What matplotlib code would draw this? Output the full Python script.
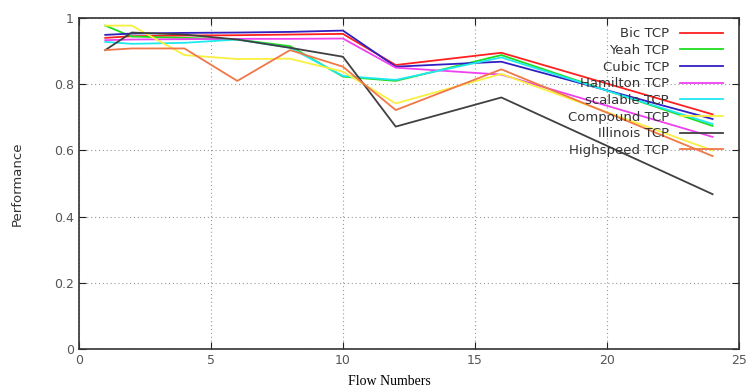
import matplotlib
matplotlib.use("Agg")
import matplotlib.pyplot as plt

# ── Data ─────────────────────────────────────────────────────────────────────
flows = [1, 2, 4, 6, 8, 10, 12, 16, 24]

bic       = [0.940, 0.945, 0.947, 0.948, 0.950, 0.952, 0.858, 0.895, 0.709]
yeah      = [0.977, 0.944, 0.940, 0.935, 0.915, 0.823, 0.810, 0.888, 0.674]
cubic     = [0.949, 0.953, 0.955, 0.956, 0.958, 0.962, 0.853, 0.868, 0.695]
hamilton  = [0.933, 0.935, 0.936, 0.937, 0.937, 0.938, 0.850, 0.829, 0.641]
scalable  = [0.928, 0.922, 0.925, 0.935, 0.910, 0.825, 0.813, 0.881, 0.680]
compound  = [0.977, 0.977, 0.888, 0.876, 0.877, 0.838, 0.742, 0.831, 0.600]
illinois  = [0.903, 0.956, 0.950, 0.935, 0.910, 0.883, 0.672, 0.760, 0.468]
highspeed = [0.903, 0.908, 0.908, 0.810, 0.903, 0.853, 0.722, 0.845, 0.583]

labels = ["Bic TCP", "Yeah TCP", "Cubic TCP", "Hamilton TCP", "scalable TCP",
          "Compound TCP", "Illinois TCP", "Highspeed TCP"]
colors = ["#ff2020", "#20dd20", "#3020c0", "#f040f0", "#20e8f0",
          "#f8f040", "#404040", "#f07848"]
series = [bic, yeah, cubic, hamilton, scalable, compound, illinois, highspeed]

# ── Plot ─────────────────────────────────────────────────────────────────────
fig = plt.figure(figsize=(7.51, 3.91), dpi=100)
ax = fig.add_axes([0.105, 0.107, 0.879, 0.847])

for vals, lab, col in zip(series, labels, colors):
    ax.plot(flows, vals, color=col, lw=1.3, label=lab)

ax.set_xlim(0, 25)
ax.set_ylim(0, 1)
ax.set_xticks([0, 5, 10, 15, 20, 25])
ax.set_yticks([0, 0.2, 0.4, 0.6, 0.8, 1])
ax.set_yticklabels(["0", "0.2", "0.4", "0.6", "0.8", "1"])
ax.tick_params(direction="in", top=True, right=True, length=5,
               labelsize=9, labelcolor="#555555", color="#222222")
ax.grid(True, linestyle=(0, (1, 2.5)), color="#999999", lw=0.8)
for s in ax.spines.values():
    s.set_color("#333333")
    s.set_linewidth(1.2)

ax.set_ylabel("Performance", fontsize=9.5, color="#333333")
ax.yaxis.set_label_coords(-0.084, 0.5)
ax.set_xlabel("Flow Numbers", fontsize=10, family="Liberation Serif")
ax.xaxis.set_label_coords(0.47, -0.078)

ax.legend(loc="upper right", bbox_to_anchor=(0.99, 1.0), frameon=False,
          markerfirst=False, fontsize=9.5, handlelength=3.3,
          labelspacing=0.28, borderpad=0.2, handletextpad=0.8,
          labelcolor="#333333")

plt.savefig("out.png", dpi=100)
